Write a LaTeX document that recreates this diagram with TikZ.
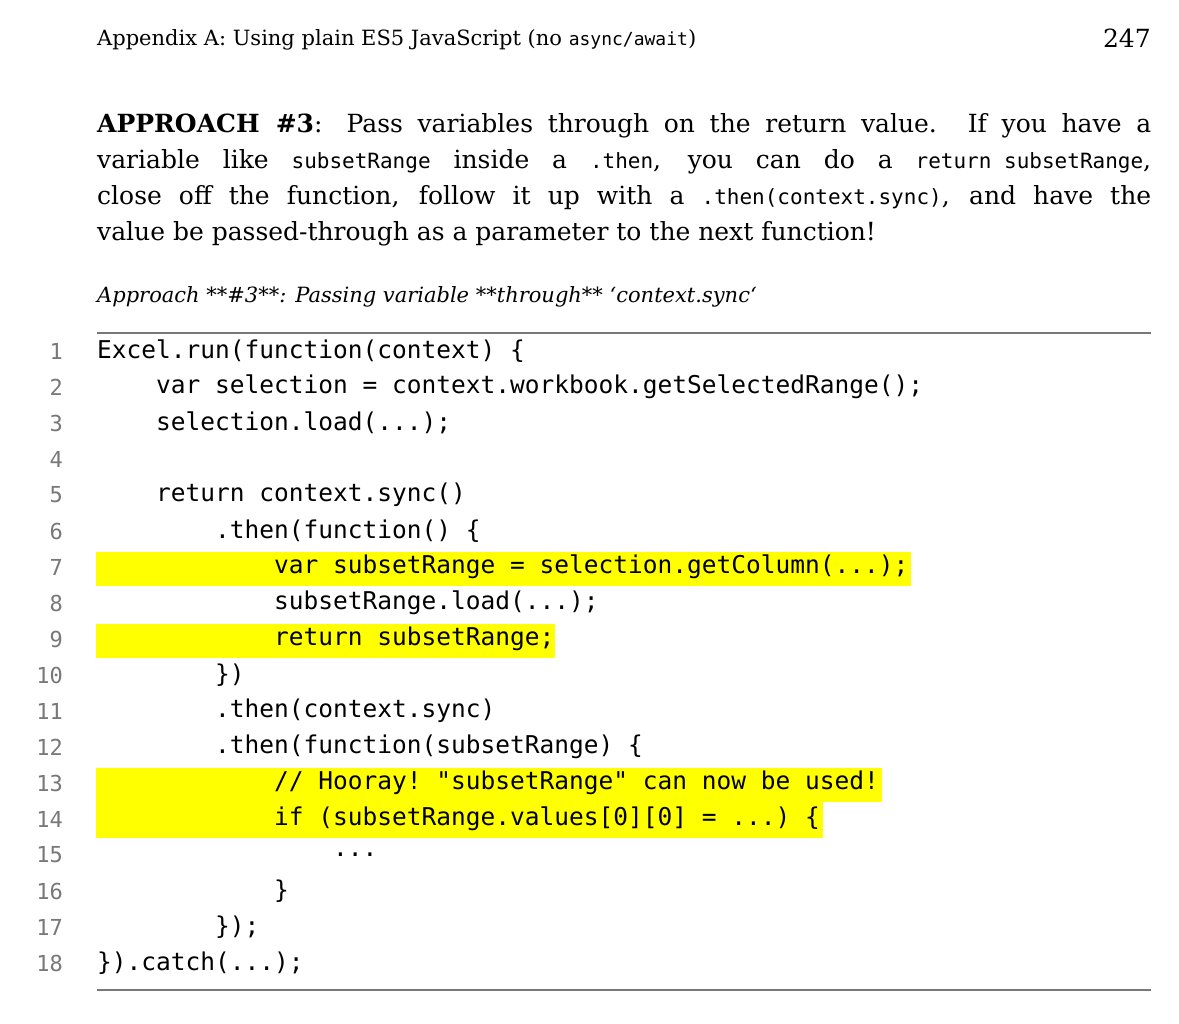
\documentclass[tikz,border=0pt]{standalone}
\usepackage{fontspec}
\setmainfont{DejaVu Serif}
\setmonofont{DejaVu Sans Mono}
\definecolor{hl}{RGB}{255,255,0}
\definecolor{lno}{RGB}{120,120,120}
\begin{document}
\begin{tikzpicture}[x=1pt,y=-1pt,
  codetxt/.style={anchor=west,inner sep=0pt,font=\fontsize{24.5}{24.5}\selectfont\ttfamily},
  numtxt/.style={anchor=east,inner sep=0pt,text=lno,font=\fontsize{22}{22}\selectfont\ttfamily},
  bodyline/.style={anchor=west,inner sep=0pt,font=\fontsize{25}{25}\selectfont}]
\useasboundingbox[fill=white] (0,0) rectangle (1179,1024);
\newcommand\inl[1]{{\fontsize{21}{21}\selectfont\ttfamily #1}}
% header
\node[anchor=west,inner sep=0pt,font=\fontsize{21}{21}\selectfont] (hdr) at (97,40) {Appendix A: Using plain ES5 JavaScript (no {\fontsize{18}{18}\selectfont\ttfamily async/await})};
\node[anchor=east,inner sep=0pt,font=\fontsize{25}{25}\selectfont] (pg) at (1151,38) {247};
% body
\node[bodyline] (b1) at (97,126) {\makebox[1054pt][s]{\textbf{APPROACH \#3}: Pass variables through on the return value. If you have a}};
\node[bodyline] (b2) at (97,162) {\makebox[1054pt][s]{variable like \inl{subsetRange} inside a \inl{.then}, you can do a \inl{return subsetRange},}};
\node[bodyline] (b3) at (97,198) {\makebox[1054pt][s]{close off the function, follow it up with a \inl{.then(context.sync)}, and have the}};
\node[bodyline] (b4) at (97,234) {value be passed-through as a parameter to the next function!};
% caption
\node[anchor=west,inner sep=0pt,font=\fontsize{21}{21}\selectfont\itshape] (cap) at (97,297) {Approach **\#3**: Passing variable **through** ‘context.sync‘};
\coordinate (r1a) at (97,333); \coordinate (r1b) at (1151,333);
\coordinate (r2a) at (97,990); \coordinate (r2b) at (1151,990);
\draw[lno,line width=1.3pt] (r1a) -- (r1b);
\draw[lno,line width=1.3pt] (r2a) -- (r2b);
% highlights
\fill[hl] (96,552) rectangle (911,586);
\fill[hl] (96,624) rectangle (555,658);
\fill[hl] (96,768) rectangle (882,802);
\fill[hl] (96,802) rectangle (823,838);
% code
\foreach \i/\ind/\t in {
 1/0/{Excel.run(function(context) \{},
 2/4/{var selection = context.workbook.getSelectedRange();},
 3/4/{selection.load(...);},
 5/4/{return context.sync()},
 6/8/{.then(function() \{},
 7/12/{var subsetRange = selection.getColumn(...);},
 8/12/{subsetRange.load(...);},
 9/12/{return subsetRange;},
 10/8/{\})},
 11/8/{.then(context.sync)},
 12/8/{.then(function(subsetRange) \{},
 13/12/{// Hooray! "subsetRange" can now be used!},
 14/12/{if (subsetRange.values[0][0] = ...) \{},
 15/16/{...},
 16/12/{\}},
 17/8/{\});},
 18/0/{\}).catch(...);}}{
  \node[codetxt] (c\i) at ({97+\ind*14.75},{351+36*(\i-1)}) {\t};
}
\foreach \i in {1,...,18}{
  \node[numtxt] (n\i) at (63,{351+36*(\i-1)}) {\i};
}
\end{tikzpicture}
\end{document}
